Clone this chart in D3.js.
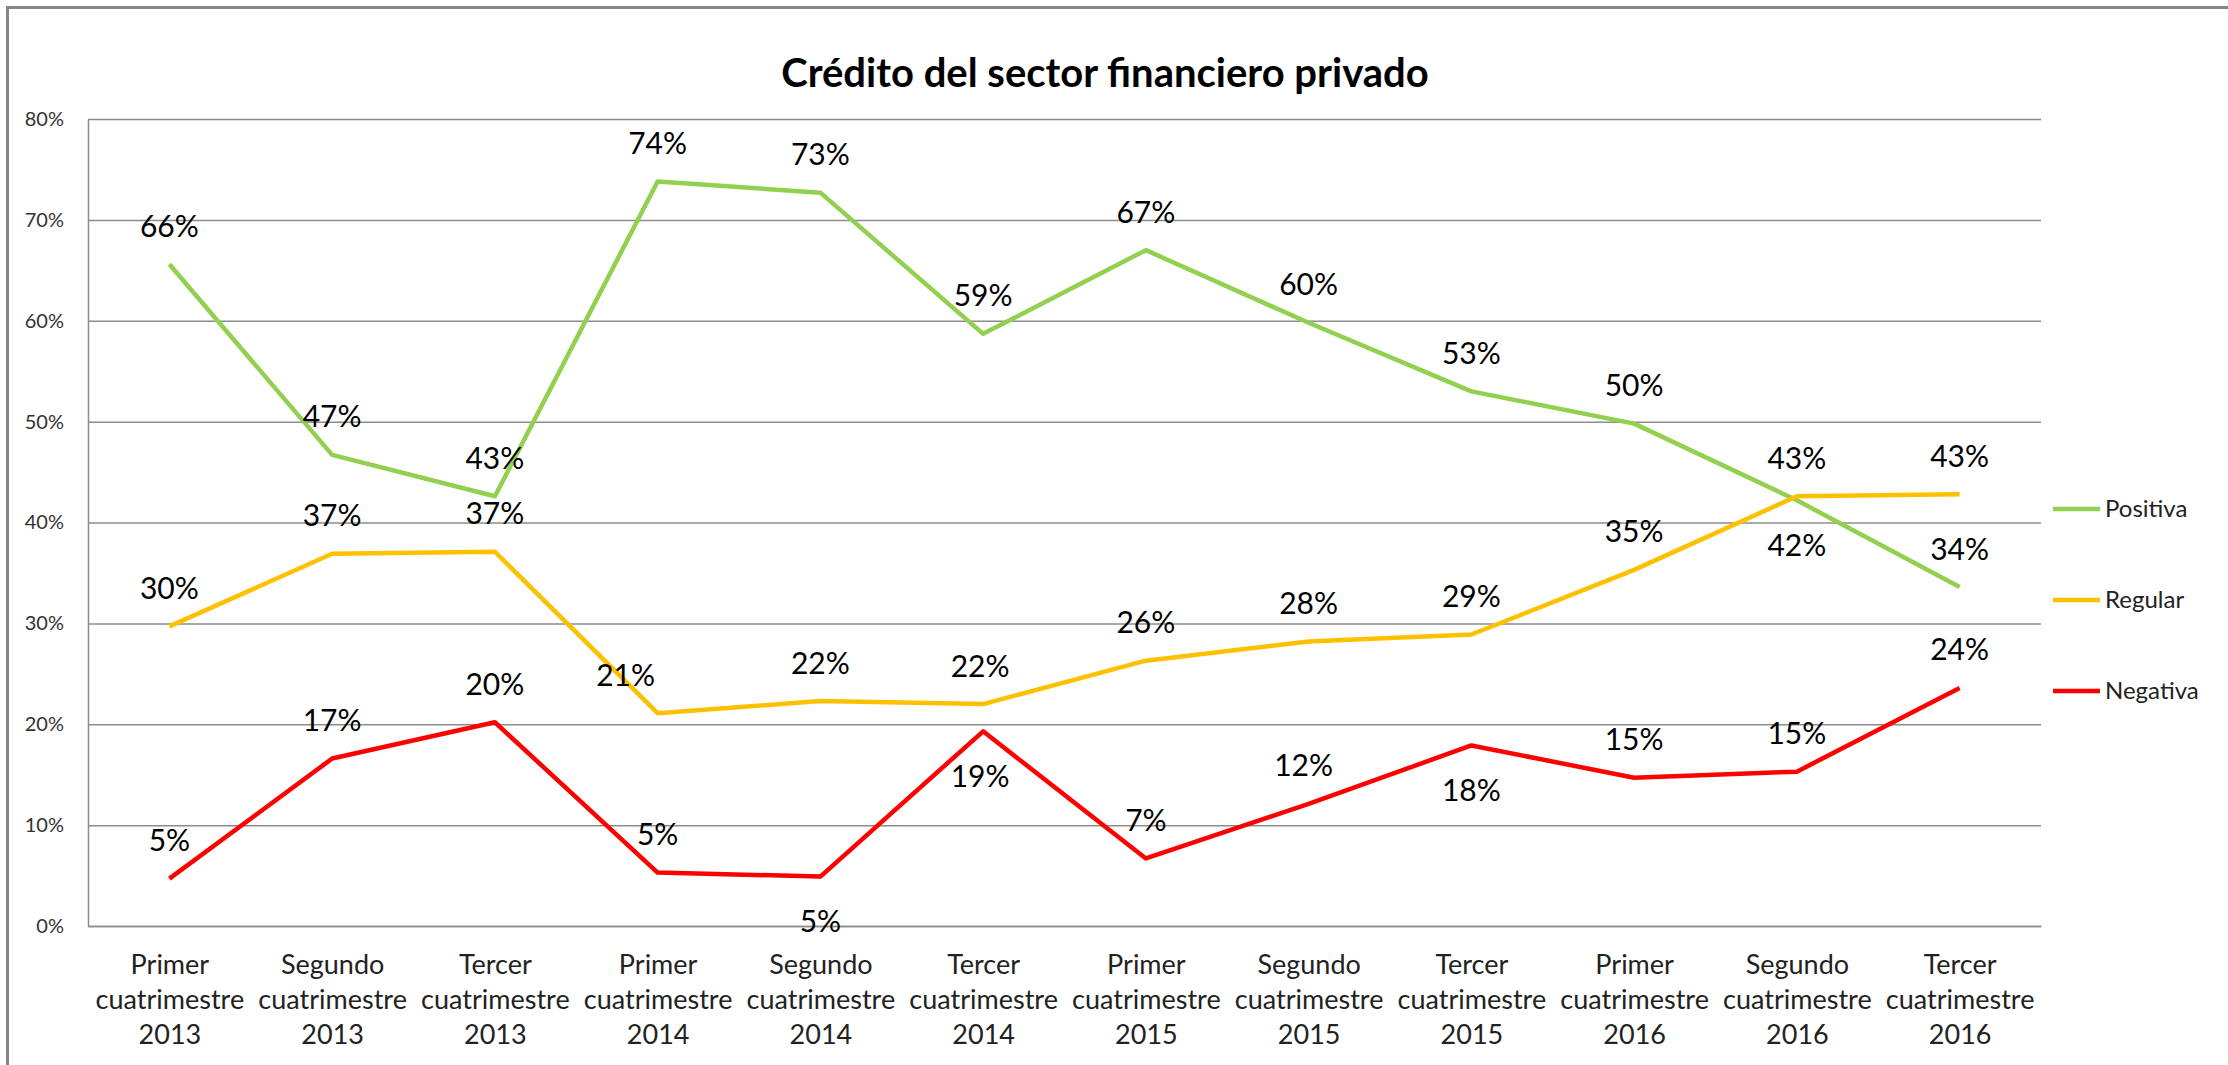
<!DOCTYPE html>
<html>
<head>
<meta charset="utf-8">
<script src="https://cdn.jsdelivr.net/npm/d3@7"></script>
<style>
  html, body { margin: 0; padding: 0; background: #fff; }
  svg { display: block; }
  text { font-family: Lato, "Open Sans", sans-serif; }
</style>
</head>
<body>
<script>
// ---------- DATA ----------
const title = "Crédito del sector financiero privado";
const categories = [
  "Primer cuatrimestre 2013", "Segundo cuatrimestre 2013", "Tercer cuatrimestre 2013",
  "Primer cuatrimestre 2014", "Segundo cuatrimestre 2014", "Tercer cuatrimestre 2014",
  "Primer cuatrimestre 2015", "Segundo cuatrimestre 2015", "Tercer cuatrimestre 2015",
  "Primer cuatrimestre 2016", "Segundo cuatrimestre 2016", "Tercer cuatrimestre 2016"
];
const seriesNames = ["Positiva", "Regular", "Negativa"];
const positiva = [0.656, 0.467, 0.426, 0.738, 0.727, 0.587, 0.670, 0.598, 0.530, 0.498, 0.422, 0.336];
const regular  = [0.297, 0.369, 0.371, 0.211, 0.223, 0.220, 0.263, 0.282, 0.289, 0.353, 0.426, 0.428];
const negativa = [0.047, 0.166, 0.202, 0.053, 0.049, 0.193, 0.067, 0.121, 0.179, 0.147, 0.153, 0.236];
const yTicks = [0, 0.1, 0.2, 0.3, 0.4, 0.5, 0.6, 0.7, 0.8];

// label placement (a = above, b = below) and small horizontal nudges
const posPlace = ["a","a","a","a","a","a","a","a","a","a","b","a"];
const regPlace = ["a","a","a","a","a","a","a","a","a","a","a","a"];
const negPlace = ["a","a","a","a","b","b","a","a","b","a","a","a"];
const posNudge = [0,0,0,0,0,0,0,0,0,0,0,0];
const regNudge = [0,0,0,-32,0,-3,0,0,0,0,0,0];
const negNudge = [0,0,0,0,0,-3,0,-5,0,0,0,0];

const colors = ["#92D050", "#FFC000", "#FF0000"];

// ---------- LAYOUT ----------
const W = 2228, H = 1065;
const plot = { left: 88, right: 2041, top: 119, bottom: 926 };

const svg = d3.select("body").append("svg").attr("width", W).attr("height", H);

// chart border
svg.append("rect")
  .attr("x", 7.5).attr("y", 7.5).attr("width", W + 20).attr("height", H + 20)
  .attr("fill", "#fff").attr("stroke", "#868686").attr("stroke-width", 3);

const x = d3.scalePoint().domain(d3.range(categories.length)).range([plot.left, plot.right]).padding(0.5);
const y = d3.scaleLinear().domain([0, 0.8]).range([plot.bottom, plot.top]);

// title
svg.append("text")
  .attr("x", 1105).attr("y", 87)
  .attr("text-anchor", "middle")
  .attr("font-weight", "bold").attr("font-size", 40).attr("fill", "#000")
  .text(title);

// gridlines
const grid = svg.append("g").attr("transform", `translate(${plot.left},0)`)
  .call(d3.axisLeft(y).tickValues(yTicks).tickSize(-(plot.right - plot.left)).tickFormat(""));
grid.select(".domain").remove();
grid.selectAll(".tick line").attr("stroke", "#8c8c8c").attr("stroke-width", 1.5);

// y axis
const yAxis = svg.append("g").attr("transform", `translate(${plot.left},0)`)
  .call(d3.axisLeft(y).tickValues(yTicks).tickSize(0).tickPadding(24).tickFormat(d3.format(".0%")));
yAxis.select(".domain").attr("stroke", "#8c8c8c").attr("stroke-width", 1.5);
yAxis.selectAll(".tick text")
  .attr("font-size", 20).attr("fill", "#333")
  .style("font-family", 'Lato, "Open Sans", sans-serif');

// x axis
const xAxis = svg.append("g").attr("transform", `translate(0,${plot.bottom})`)
  .call(d3.axisBottom(x).tickSize(0).tickFormat(""));
xAxis.select(".domain").attr("stroke", "#8c8c8c").attr("stroke-width", 1.5);
xAxis.selectAll(".tick").each(function(d) {
  const parts = categories[d].split(" ");
  const t = d3.select(this).select("text")
    .attr("font-size", 27).attr("fill", "#222")
    .style("font-family", 'Lato, "Open Sans", sans-serif')
    .attr("y", 0).attr("dy", null);
  t.selectAll("tspan").data(parts).join("tspan")
    .attr("x", 0).attr("y", (p, i) => 48 + i * 35)
    .text(p => p);
});

// lines
const allSeries = [positiva, regular, negativa];
const places = [posPlace, regPlace, negPlace];
const nudges = [posNudge, regNudge, negNudge];
const line = d3.line().x((d, i) => x(i)).y(d => y(d));

allSeries.forEach((vals, s) => {
  svg.append("path")
    .datum(vals)
    .attr("fill", "none")
    .attr("stroke", colors[s])
    .attr("stroke-width", 4.5)
    .attr("stroke-linejoin", "round")
    .attr("d", line);
});

// data labels
allSeries.forEach((vals, s) => {
  svg.append("g").selectAll("text")
    .data(vals)
    .join("text")
    .attr("x", (d, i) => x(i) + nudges[s][i])
    .attr("y", (d, i) => y(d) + (places[s][i] === "a" ? -38 : 45))
    .attr("dy", "0.35em")
    .attr("text-anchor", "middle")
    .attr("font-size", 30).attr("fill", "#000")
    .text(d => d3.format(".0%")(d));
});

// legend
const legendY = [509, 600, 691];
const lg = svg.append("g");
seriesNames.forEach((name, s) => {
  lg.append("line")
    .attr("x1", 2053).attr("x2", 2100)
    .attr("y1", legendY[s]).attr("y2", legendY[s])
    .attr("stroke", colors[s]).attr("stroke-width", 4.5);
  lg.append("text")
    .attr("x", 2105).attr("y", legendY[s]).attr("dy", "0.35em")
    .attr("font-size", 24).attr("fill", "#222")
    .text(name);
});
</script>
</body>
</html>
